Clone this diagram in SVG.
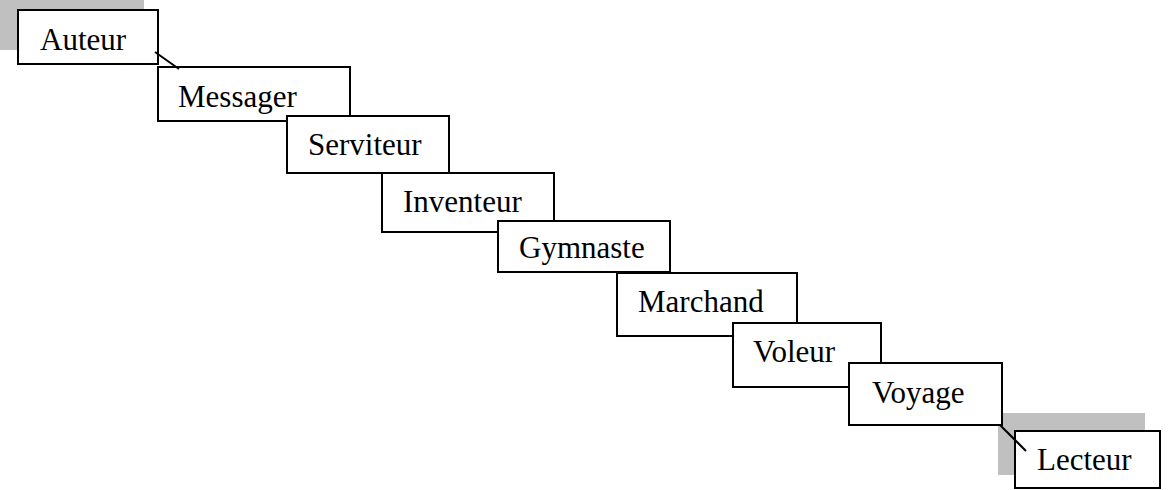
<svg xmlns="http://www.w3.org/2000/svg" width="1170" height="490" viewBox="0 0 1170 490">
<style>
.box{fill:#fff;stroke:#000;stroke-width:2}
.lbl{font-family:"Liberation Serif","Times New Roman",serif;font-size:31px;fill:#000}
.shade{fill:#c0c0c0}
.conn{stroke:#000;stroke-width:2;fill:none}
</style>
<rect class="shade" x="0" y="0" width="144" height="50"/>
<rect class="shade" x="998" y="413" width="147" height="62"/>
<g id="auteur"><rect class="box" x="18" y="10" width="140" height="54"/><text class="lbl" x="40" y="50">Auteur</text></g>
<g id="messager"><rect class="box" x="158" y="67" width="192" height="54"/><text class="lbl" x="178" y="107">Messager</text></g>
<g id="serviteur"><rect class="box" x="287" y="116" width="162" height="57"/><text class="lbl" x="308" y="155">Serviteur</text></g>
<g id="inventeur"><rect class="box" x="382" y="173" width="172" height="59"/><text class="lbl" x="403" y="212">Inventeur</text></g>
<g id="gymnaste"><rect class="box" x="498" y="221" width="172" height="51"/><text class="lbl" x="519" y="258">Gymnaste</text></g>
<g id="marchand"><rect class="box" x="617" y="273" width="180" height="63"/><text class="lbl" x="638" y="312">Marchand</text></g>
<g id="voleur"><rect class="box" x="733" y="323" width="148" height="64"/><text class="lbl" x="753" y="362">Voleur</text></g>
<g id="voyage"><rect class="box" x="849" y="363" width="153" height="62"/><text class="lbl" x="872" y="403">Voyage</text></g>
<g id="lecteur"><rect class="box" x="1015" y="431" width="145" height="57"/><text class="lbl" x="1037" y="470">Lecteur</text></g>
<g id="connectors">
<line class="conn" x1="155" y1="52" x2="179" y2="69"/>
<line class="conn" x1="1000" y1="425" x2="1026" y2="451"/>
</g>
</svg>
